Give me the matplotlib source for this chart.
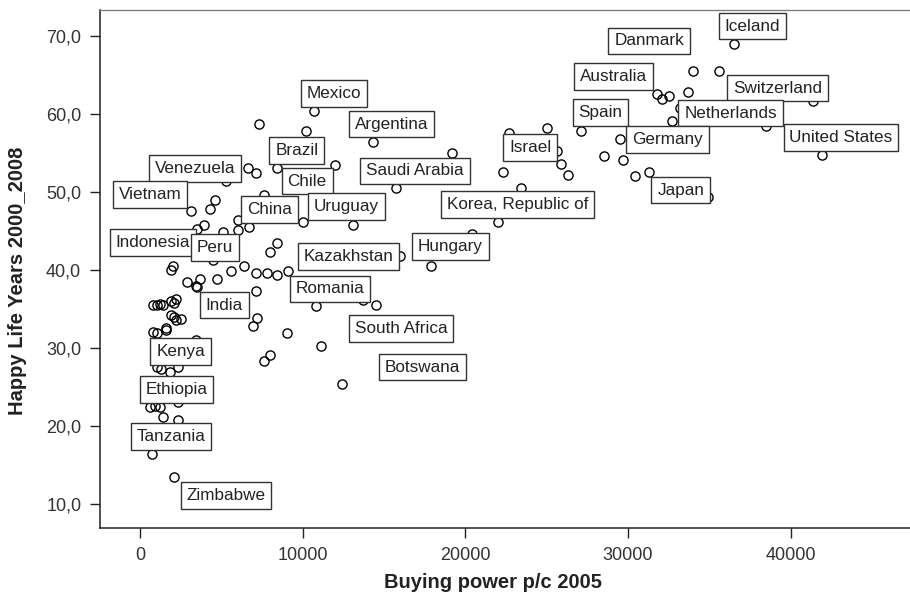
import matplotlib
matplotlib.use("Agg")
import matplotlib.pyplot as plt
from matplotlib.ticker import FuncFormatter

plt.rcParams["font.family"] = ["Liberation Sans", "DejaVu Sans"]

# labelled countries: buying power p/c 2005, happy life years 2000-2008
label_names = ["Iceland", "Danmark", "Australia", "Switzerland", "Spain", "Netherlands",
               "Germany", "United States", "Japan", "Israel", "Korea, Republic of",
               "Hungary", "Kazakhstan", "Romania", "South Africa", "Botswana",
               "Argentina", "Mexico", "Saudi Arabia", "Brazil", "Chile", "Venezuela",
               "Vietnam", "China", "Uruguay", "Indonesia", "Peru", "India", "Kenya",
               "Ethiopia", "Tanzania", "Zimbabwe"]
label_x = [36500, 34000, 31800, 41400, 27100, 33200, 29500, 41900, 34900, 25600, 22000,
           17900, 16000, 10800, 11100, 12400, 14300, 10700, 15700, 8400, 12000, 5300,
           3100, 6000, 13100, 3500, 5100, 3700, 1300, 900, 700, 2100]
label_y = [68.9, 65.4, 62.5, 61.6, 57.8, 60.7, 56.7, 54.7, 49.3, 55.2, 46.1,
           40.4, 41.7, 35.3, 30.2, 25.3, 56.4, 60.3, 50.4, 53.0, 53.4, 51.3,
           47.5, 46.3, 45.7, 45.2, 44.8, 38.8, 27.2, 22.5, 16.3, 13.4]

# other countries
other_x = [7300, 10200, 6600, 7100, 7600, 4600, 4300, 3900, 6700, 6000, 10000, 8400, 8000,
           2000, 1900, 4500, 6400, 5600, 7100, 7800, 8400, 9100, 2900, 3500, 4700, 7100,
           1000, 1400, 2200, 2100, 1900, 2100, 2200, 2500, 1600, 1000, 7200, 6900, 9000,
           3400, 8000, 7600, 13700, 14500, 2300, 1000, 1800, 600, 1200, 1400, 2300, 2300,
           800, 1600, 1200, 800, 1900, 3400, 22700, 25000, 25900, 26300, 22300, 19200,
           23400, 20400, 32100, 32500, 28500, 29700, 30400, 31300, 35600, 33700, 32700,
           38500]
other_y = [58.6, 57.8, 53.0, 52.4, 49.6, 48.9, 47.8, 45.7, 45.4, 45.1, 46.1, 43.4, 42.3,
           40.4, 40.0, 41.2, 40.5, 39.8, 39.5, 39.5, 39.3, 39.8, 38.4, 37.8, 38.8, 37.2,
           35.5, 35.4, 36.2, 35.7, 34.2, 33.9, 33.5, 33.7, 32.2, 31.8, 33.8, 32.7, 31.9,
           31.0, 29.0, 28.3, 36.1, 35.5, 27.5, 27.5, 26.9, 22.4, 22.4, 21.1, 20.7, 23.0,
           32.0, 32.5, 35.6, 35.4, 35.9, 37.9, 57.5, 58.2, 53.5, 52.1, 52.5, 55.0,
           50.4, 44.6, 61.8, 62.2, 54.5, 54.0, 52.0, 52.5, 65.5, 62.7, 59.1,
           58.4]

x_ticks = [0, 10000, 20000, 30000, 40000]
y_ticks = [10, 20, 30, 40, 50, 60, 70]

# box centre offsets from the point, in pixels (layout only)
LABEL_OFFSETS = {
    "Iceland": (18.5, 18), "Danmark": (-44, 30.5), "Australia": (-44, 17.5),
    "Switzerland": (-36, 13), "Spain": (19.5, 18), "Netherlands": (50.5, -5),
    "Germany": (47.5, 0), "United States": (19.5, 17.3), "Japan": (-27, 6.8),
    "Israel": (-26.5, 3.2), "Korea, Republic of": (19.2, 17.7), "Hungary": (19.2, 20),
    "Kazakhstan": (-52, 0), "Romania": (14, 17.2), "South Africa": (80.5, 17.5),
    "Botswana": (80.3, 17.1), "Argentina": (19.1, 17.5), "Mexico": (19.3, 17.7),
    "Saudi Arabia": (19.3, 17.5), "Brazil": (19.8, 17.8), "Chile": (-28.2, -16.1),
    "Venezuela": (-31.2, 12.7), "Vietnam": (-40.8, 16.8), "China": (31.5, 10.7),
    "Uruguay": (-6.9, 18.8), "Indonesia": (-44.4, -13.7), "Peru": (-8.5, -15.4),
    "India": (24, -26.2), "Kenya": (19.2, 17.6), "Ethiopia": (21.7, 16.8),
    "Tanzania": (19.4, 17.6), "Zimbabwe": (51.6, -18.6),
}

fig = plt.figure(figsize=(9.1, 5.94), dpi=100)
ax = fig.add_axes([100 / 910, 66 / 594, 810 / 910, 518 / 594])

ax.plot(other_x + label_x, other_y + label_y, "o", ms=6.6, mfc="none", mec="black",
        mew=1.0, linestyle="none")

for name, x, y in zip(label_names, label_x, label_y):
    dx, dy = LABEL_OFFSETS[name]
    ax.annotate(name, (x, y), xytext=(dx, dy), textcoords="offset pixels",
                ha="center", va="center", fontsize=12.3, color="#222222",
                bbox=dict(boxstyle="square,pad=0.34", fc="white", ec="#333333", lw=1.0))

ax.set_xlim(-2480, 47340)
ax.set_ylim(6.86, 73.27)
ax.set_xticks(x_ticks)
ax.set_yticks(y_ticks)
ax.yaxis.set_major_formatter(FuncFormatter(lambda v, p: f"{v:.1f}".replace(".", ",")))
ax.tick_params(direction="out", length=7.5, width=1.0, labelsize=13,
               labelcolor="#333333", color="#222222", pad=6)

ax.spines["right"].set_visible(False)
ax.spines["top"].set_color("#777777")
ax.spines["top"].set_linewidth(0.9)
for s in ("left", "bottom"):
    ax.spines[s].set_color("#222222")
    ax.spines[s].set_linewidth(1.1)

ax.set_xlabel("Buying power p/c 2005", fontsize=14.5, fontweight="bold", color="#222222")
ax.set_ylabel("Happy Life Years 2000_2008", fontsize=14.5, fontweight="bold", color="#222222")
ax.xaxis.set_label_coords(0.4846, -0.106)
ax.yaxis.set_label_coords(-0.102, 0.478)
ax.xaxis.label.set_va("center")
ax.yaxis.label.set_va("center")

fig.savefig("out.png", dpi=100)
